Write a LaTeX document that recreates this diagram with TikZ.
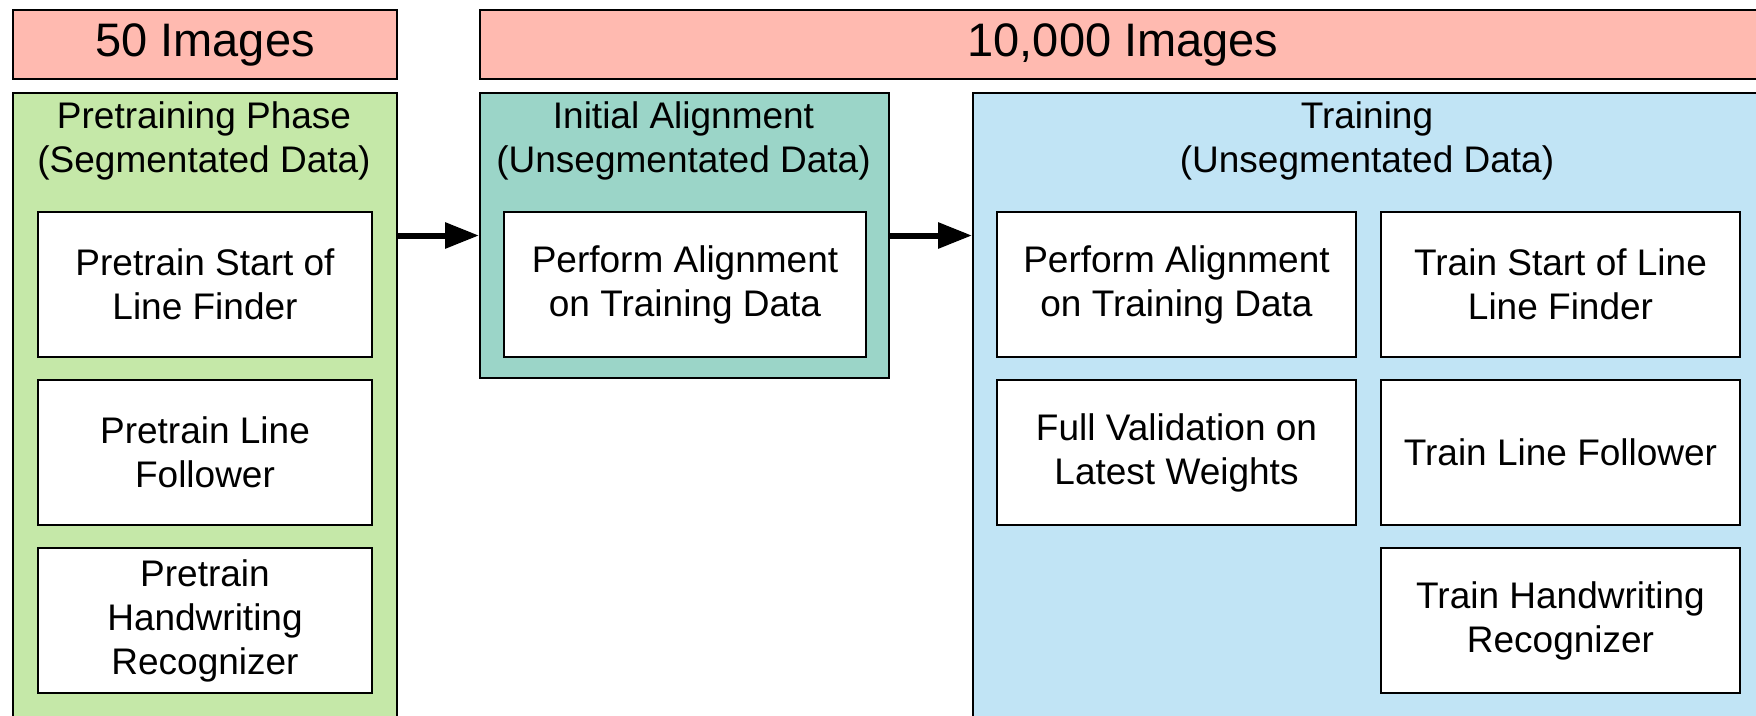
\documentclass[tikz,border=0pt]{standalone}
\usepackage{fontspec}
\setmainfont{Liberation Sans}
\usetikzlibrary{arrows.meta}
\definecolor{headred}{RGB}{255,186,176}
\definecolor{pregreen}{RGB}{197,232,168}
\definecolor{alignteal}{RGB}{155,213,200}
\definecolor{trainblue}{RGB}{193,228,245}

\begin{document}
\begin{tikzpicture}[%
        x = 1pt, y = -1pt,
        box/.style = {draw, line width=2pt, anchor=north west, inner sep=0pt},
        header/.style = {box, fill=headred, font=\fontsize{47}{56}\selectfont},
        stepbox/.style = {box, fill=white, align=center, minimum height=145,
                          font=\fontsize{37}{44}\selectfont},
        title/.style = {align=center, font=\fontsize{37}{44}\selectfont},
        flow/.style = {line width=6pt, -{Triangle[length=34pt,width=25pt]}}
    ]
      \useasboundingbox (0,0) rectangle (1756,715);
      \clip (0,0) rectangle (1756,715);
      \node[header, minimum width=384, minimum height=69] (few) at (12,9) {50 Images};
      \node[header, minimum width=1286, minimum height=69] (many) at (479,9) {10,000 Images};
      \node[box, fill=pregreen, minimum width=384, minimum height=700] (pretrain) at (12,92) {};
      \node[box, fill=alignteal, minimum width=409, minimum height=285] (initial) at (479,92) {};
      \node[box, fill=trainblue, minimum width=790, minimum height=700] (train) at (972,92) {};
      \node[title] (pretitle) at (204,141) {Pretraining Phase\\(Segmentated Data)};
      \node[title] (inittitle) at (683.5,141) {Initial Alignment\\(Unsegmentated Data)};
      \node[title] (traintitle) at (1367,141) {Training\\(Unsegmentated Data)};
      \node[stepbox, minimum width=334] (p1) at (37,211) {Pretrain Start of\\Line Finder};
      \node[stepbox, minimum width=334] (p2) at (37,379) {Pretrain Line\\Follower};
      \node[stepbox, minimum width=334] (p3) at (37,547) {Pretrain\\Handwriting\\Recognizer};
      \node[stepbox, minimum width=362] (a1) at (503,211) {Perform Alignment\\on Training Data};
      \node[stepbox, minimum width=359] (t1) at (996,211) {Perform Alignment\\on Training Data};
      \node[stepbox, minimum width=359] (t2) at (1380,211) {Train Start of Line\\Line Finder};
      \node[stepbox, minimum width=359] (t3) at (996,379) {Full Validation on\\Latest Weights};
      \node[stepbox, minimum width=359] (t4) at (1380,379) {Train Line Follower};
      \node[stepbox, minimum width=359] (t5) at (1380,547) {Train Handwriting\\Recognizer};
      \draw[flow] (pretrain.east |- initial.west) -- (initial.west);
      \draw[flow] (initial.east) -- (train.west |- initial.east);
    \end{tikzpicture}
\end{document}
